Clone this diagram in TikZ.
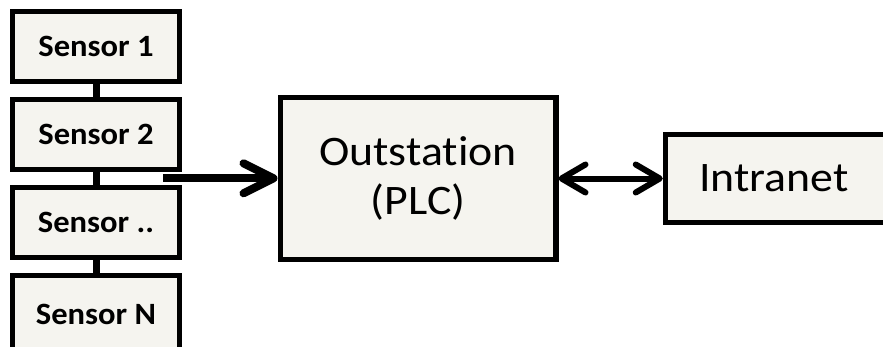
\documentclass[tikz,border=0pt]{standalone}
\usepackage{fontspec}
\usepackage{graphicx}
\setmainfont{Carlito}[Ligatures={NoCommon}]
\usetikzlibrary{arrows.meta}
\definecolor{boxfill}{RGB}{245,244,239}
\newcommand\widetxt[1]{\scalebox{1.09}[1]{#1}}
\newcommand\widesens[1]{\scalebox{1.05}[1]{#1}}
\begin{document}
\begin{tikzpicture}[x=1pt,y=-1pt,
  box/.style={draw=black, fill=boxfill, line width=5.5pt, inner sep=0pt},
  sensorbox/.style={box, minimum width=167pt, minimum height=70pt,
    font=\fontsize{31}{37}\selectfont\bfseries},
  link/.style={line width=7pt},
  bigarrow/.style={line width=8pt, -{Straight Barb[length=30pt,width=30pt,round]}},
  dblarrow/.style={line width=6pt,
    {Straight Barb[length=24pt,width=28pt,round]}-{Straight Barb[length=24pt,width=28pt,round]}}
]
\useasboundingbox (0,0) rectangle (883,346);
\node[sensorbox] (s1) at (96,46.5) {\widesens{Sensor 1}};
\node[sensorbox] (s2) at (96,134.5) {\widesens{Sensor 2}};
\node[sensorbox] (s3) at (96,222.5) {\widesens{Sensor ..}};
\node[sensorbox, minimum height=80pt] (s4) at (96,315.5) {\raisebox{3pt}{\widesens{Sensor N}}};
\draw[link] (s1.south) -- (s2.north);
\draw[link] (s2.south) -- (s3.north);
\draw[link] (s3.south) -- (s4.north);
\node[box, minimum width=275.5pt, minimum height=162pt, align=center,
  font=\fontsize{42}{48.5}\selectfont] (out) at (418,178.5)
  {\widetxt{Outstation}\\\widetxt{(PLC)}};
\node[box, anchor=west, minimum height=88pt, inner xsep=33.5pt, text width=200pt,
  align=left, font=\fontsize{42}{48.5}\selectfont] (intra) at (662.75,178.5)
  {\widetxt{Intranet}};
\coordinate (bus) at (163,178.3);
\draw[bigarrow] (bus) -- (bus -| out.west);
\draw[dblarrow] (out.east) -- (intra.west |- out.east);
\end{tikzpicture}
\end{document}
